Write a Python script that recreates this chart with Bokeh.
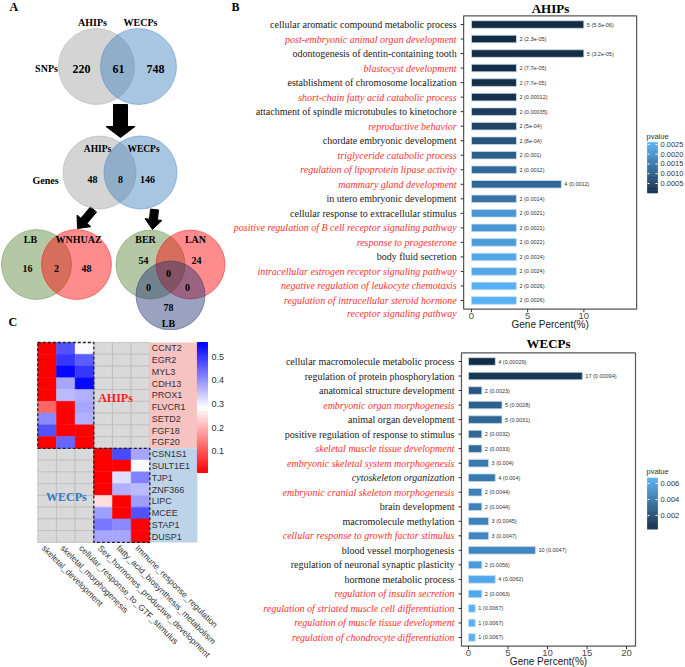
import math
from bokeh.plotting import figure
from bokeh.layouts import row, column
from bokeh.models import ColumnDataSource, LinearColorMapper, Range1d
from bokeh.transform import transform
from bokeh.core.properties import value
from bokeh.embed import file_html
from bokeh.resources import INLINE

SERIF = "Liberation Serif"
SANS = "Liberation Sans"
RED_TXT = "#ff3030"

# ---------------- Panel A data (Venn counts) ----------------
snp_sets = ["AHIPs", "WECPs"]
snp_counts = [220, 61, 748]          # AHIPs only, shared, WECPs only
gene_sets = ["AHIPs", "WECPs"]
gene_counts = [48, 8, 146]
ahips_sets = ["LB", "WNHUAZ"]
ahips_counts = [16, 2, 48]
wecps_sets = ["BER", "LAN", "LB"]
wecps_counts = [54, 24, 0, 0, 0, 78]  # BER, LAN, centre, BER&LB, LAN&LB, LB

# ---------------- Panel B data (GO enrichment) ----------------
ahips_terms = [
    "cellular aromatic compound metabolic process",
    "post-embryonic animal organ development",
    "odontogenesis of dentin-containing tooth",
    "blastocyst development",
    "establishment of chromosome localization",
    "short-chain fatty acid catabolic process",
    "attachment of spindle microtubules to kinetochore",
    "reproductive behavior",
    "chordate embryonic development",
    "triglyceride catabolic process",
    "regulation of lipoprotein lipase activity",
    "mammary gland development",
    "in utero embryonic development",
    "cellular response to extracellular stimulus",
    "positive regulation of B cell receptor signaling pathway",
    "response to progesterone",
    "body fluid secretion",
    "intracellular estrogen receptor signaling pathway",
    "negative regulation of leukocyte chemotaxis",
    "regulation of intracellular steroid hormone\nreceptor signaling pathway",
]
ahips_counts_go = [5, 2, 5, 2, 2, 2, 2, 2, 2, 2, 2, 4, 2, 2, 2, 2, 2, 2, 2, 2]
ahips_percent = [10, 4, 10, 4, 4, 4, 4, 4, 4, 4, 4, 8, 4, 4, 4, 4, 4, 4, 4, 4]
ahips_pvalue = [5.3e-06, 2.3e-05, 3.2e-05, 7.7e-05, 7.7e-05, 0.00012, 0.00035, 5e-04,
                8e-04, 0.001, 0.0012, 0.0012, 0.0014, 0.0021, 0.0021, 0.0022, 0.0024,
                0.0024, 0.0026, 0.0026]
ahips_style = ["n", "r", "n", "r", "n", "r", "n", "r", "n", "r", "r", "r", "n", "n",
               "r", "r", "n", "r", "r", "r"]
ahips_xticks = [0, 5, 10]
ahips_cbticks = [0.0005, 0.0010, 0.0015, 0.0020, 0.0025]

wecps_terms = [
    "cellular macromolecule metabolic process",
    "regulation of protein phosphorylation",
    "anatomical structure development",
    "embryonic organ morphogenesis",
    "animal organ development",
    "positive regulation of response to stimulus",
    "skeletal muscle tissue development",
    "embryonic skeletal system morphogenesis",
    "cytoskeleton organization",
    "embryonic cranial skeleton morphogenesis",
    "brain development",
    "macromolecule methylation",
    "cellular response to growth factor stimulus",
    "blood vessel morphogenesis",
    "regulation of neuronal synaptic plasticity",
    "hormone metabolic process",
    "regulation of insulin secretion",
    "regulation of striated muscle cell differentiation",
    "regulation of muscle tissue development",
    "regulation of chondrocyte differentiation",
]
wecps_counts_go = [4, 17, 2, 5, 5, 2, 2, 3, 4, 2, 2, 3, 3, 10, 2, 4, 2, 1, 1, 1]
wecps_percent = [3.39, 14.41, 1.69, 4.24, 4.24, 1.69, 1.69, 2.54, 3.39, 1.69, 1.69, 2.54,
                 2.54, 8.47, 1.69, 3.39, 1.69, 0.85, 0.85, 0.85]
wecps_pvalue = [0.00029, 0.00094, 0.0023, 0.0028, 0.0031, 0.0032, 0.0033, 0.004, 0.004,
                0.0044, 0.0044, 0.0045, 0.0047, 0.0047, 0.0056, 0.0062, 0.0063, 0.0067,
                0.0067, 0.0067]
wecps_style = ["n", "n", "n", "r", "n", "n", "r", "r", "i", "r", "n", "n", "r", "n", "n",
               "n", "r", "r", "r", "r"]
wecps_xticks = [0, 5, 10, 15, 20]
wecps_cbticks = [0.002, 0.004, 0.006]

# ---------------- Panel C data (heatmap) ----------------
heat_columns = ["skeletal_development", "skeletal_morphogenesis",
                "cellular_response_to_GTF_stimulus", "Sex_hormones_productive_development",
                "fatty_acid_biosynthesis_metabolism", "Immune_response_regulation"]
ahips_genes = ["CCNT2", "EGR2", "MYL3", "CDH13", "PROX1", "FLVCR1", "SETD2", "FGF18", "FGF20"]
ahips_heat = [[0.01, 0.47, 0.29], [0.01, 0.50, 0.46], [0.01, 0.55, 0.50],
              [0.01, 0.38, 0.55], [0.01, 0.36, 0.37], [0.12, 0.01, 0.38],
              [0.41, 0.01, 0.37], [0.47, 0.01, 0.01], [0.01, 0.45, 0.01]]
wecps_genes = ["CSN1S1", "SULT1E1", "TJP1", "ZNF366", "LIPC", "MCEE", "STAP1", "DUSP1"]
wecps_heat = [[0.01, 0.48, 0.38], [0.01, 0.01, 0.29], [0.01, 0.32, 0.42],
              [0.01, 0.37, 0.36], [0.25, 0.01, 0.39], [0.39, 0.01, 0.47],
              [0.43, 0.41, 0.01], [0.38, 0.38, 0.01]]
heat_ticks = [0.1, 0.2, 0.3, 0.4, 0.5]


# ---------------- helpers ----------------
def hex_to_rgb(h):
    h = h.lstrip("#")
    return [int(h[i:i + 2], 16) for i in (0, 2, 4)]


def ramp(cols, n):
    rgb = [hex_to_rgb(c) for c in cols]
    out = []
    for k in range(n):
        t = k / (n - 1) * (len(rgb) - 1)
        i = min(int(t), len(rgb) - 2)
        f = t - i
        c = [round(rgb[i][j] + (rgb[i + 1][j] - rgb[i][j]) * f) for j in range(3)]
        out.append("#%02x%02x%02x" % tuple(c))
    return out


BLUES = ramp(["#132B43", "#56B1F7"], 256)
RWB = ramp(["#FF0000", "#FFFFFF", "#0000FF"], 256)


def r_fmt(p):
    fixed = ("%.10f" % p).rstrip("0")
    m, e = ("%.1e" % p).split("e")
    if m.endswith(".0"):
        m = m[:-2]
    sci = "%se%s%02d" % (m, "-" if int(e) < 0 else "+", abs(int(e)))
    return fixed if len(fixed) <= len(sci) else sci


def arrow(x0, y0, x1, y1, sw, hw, hl):
    L = math.hypot(x1 - x0, y1 - y0)
    dx, dy = (x1 - x0) / L, (y1 - y0) / L
    nx, ny = -dy, dx
    bx, by = x0 + dx * (L - hl), y0 + dy * (L - hl)
    xs = [x0 + nx * sw / 2, bx + nx * sw / 2, bx + nx * hw / 2, x1,
          bx - nx * hw / 2, bx - nx * sw / 2, x0 - nx * sw / 2]
    ys = [y0 + ny * sw / 2, by + ny * sw / 2, by + ny * hw / 2, y1,
          by - ny * hw / 2, by - ny * sw / 2, y0 - ny * sw / 2]
    return xs, ys


def txt(p, xs, ys, texts, size, color="black", style="bold", font=SERIF, align="center",
        baseline="middle", angle=0.0):
    p.text(x=xs, y=ys, text=texts, text_font=value(font), text_font_size=size,
           text_font_style=style, text_color=color, text_align=align,
           text_baseline=baseline, angle=angle)


# ================= Panel A =================
pA = figure(width=230, height=330, x_range=Range1d(0, 230), y_range=Range1d(330, 0),
            x_axis_location=None, y_axis_location=None, min_border=0,
            output_backend="svg", toolbar_location=None)
pA.grid.visible = False
pA.outline_line_color = None

arrs = [arrow(120, 104, 120, 137, 14, 29, 11),
        arrow(93, 209, 77, 228, 8, 18, 10),
        arrow(154, 209, 152, 229, 8, 17, 10)]
pA.patches(xs=[a[0] for a in arrs], ys=[a[1] for a in arrs], fill_color="black",
           line_color="black")


def venn(p, xs, ys, r, cols):
    for x, y, c in zip(xs, ys, cols):
        p.circle(x=[x], y=[y], radius=r, fill_color=c, fill_alpha=0.45,
                 line_color=c, line_alpha=0.55, line_width=0.8)


venn(pA, [96, 138], [66, 66], 38, ["#a0a0a0", "#3e81bf"])
txt(pA, [92, 140], [22, 22], snp_sets, "10px")
txt(pA, [46], [68], ["SNPs"], "10px")
txt(pA, [81, 118, 155], [68, 68, 68], [str(v) for v in snp_counts], "12px")

venn(pA, [99, 140], [172, 172], 36.5, ["#a0a0a0", "#3e81bf"])
txt(pA, [97, 143], [148, 148], gene_sets, "9.5px")
txt(pA, [45], [180], ["Genes"], "10px")
txt(pA, [92, 120, 147], [179, 179, 179], [str(v) for v in gene_counts], "10px")

venn(pA, [36, 76], [264, 264], 35, ["#58853a", "#ff0000"])
txt(pA, [30, 78], [239, 239], ahips_sets, "10px")
txt(pA, [27, 56, 86], [268, 268, 268], [str(v) for v in ahips_counts], "10px")

venn(pA, [150, 190, 170], [264, 264, 295], 34.5, ["#58853a", "#ff0000", "#1e3070"])
txt(pA, [145, 195], [239, 239], wecps_sets[:2], "10px")
txt(pA, [143, 196, 168, 148, 187, 168], [260, 260, 273, 287, 287, 307],
    [str(v) for v in wecps_counts], "10px")
txt(pA, [168], [323], [wecps_sets[2]], "10px")

txt(pA, [9], [6], ["A"], "12px", align="left")
txt(pA, [8], [321], ["C"], "12px", align="left")


# ================= Panel B =================
ROW_PX = 14.526


def bar_chart(title, terms, counts, pct, pvals, styles, xlim, xticks, cbticks, cbfmt,
              top, height, zero_px, xppu, row1_px, title_px, cb_px, letter=None):
    left, width = 230, 455
    n = len(terms)
    rows = list(range(1, n + 1))

    def X(px):
        return (px - zero_px) / xppu

    def Y(py):
        return 1 + (py - row1_px) / ROW_PX

    p = figure(width=width, height=height,
               x_range=Range1d(X(left), X(left + width)),
               y_range=Range1d(Y(top + height), Y(top)),
               x_axis_location=None, y_axis_location=None, min_border=0,
               output_backend="svg", toolbar_location=None)
    p.grid.visible = False
    p.outline_line_color = None

    ytop, ybot = 0.4, n + 0.6
    mapper = LinearColorMapper(palette=BLUES, low=min(pvals), high=max(pvals))

    src = ColumnDataSource(dict(row=rows, pct=pct, p=pvals,
                                lab=["%d (%s)" % (c, r_fmt(v)) for c, v in zip(counts, pvals)]))
    p.hbar(y="row", left=0, right="pct", height=0.52, source=src,
           fill_color=transform("p", mapper), line_color="#c6dbef", line_width=0.8)
    p.text(x="pct", y="row", text="lab", source=src, x_offset=3, text_baseline="middle",
           text_font=value(SANS), text_font_size="5.5px", text_color="#333333")

    # panel border and ticks
    p.quad(left=[xlim[0]], right=[xlim[1]], top=[ytop], bottom=[ybot], fill_color=None,
           line_color="#555555", line_width=1.2)
    tl_x = 3 / xppu
    tl_y = 3 / ROW_PX
    p.segment(x0=[xlim[0] - tl_x] * n, x1=[xlim[0]] * n, y0=rows, y1=rows,
              line_color="#333333", line_width=1)
    p.segment(x0=xticks, x1=xticks, y0=[ybot] * len(xticks), y1=[ybot + tl_y] * len(xticks),
              line_color="#333333", line_width=1)
    txt(p, xticks, [ybot + 6.5 / ROW_PX] * len(xticks), [str(t) for t in xticks], "9.5px",
        color="#4d4d4d", style="normal", font=SANS)
    mid = (xlim[0] + xlim[1]) / 2
    txt(p, [mid], [ybot + 15.5 / ROW_PX], ["Gene Percent(%)"], "10px", color="#1a1a1a",
        style="normal", font=SANS)
    txt(p, [X(title_px[0])], [Y(title_px[1])], [title], "13px")
    if letter:
        txt(p, [X(231)], [Y(6)], [letter], "12px", align="left")

    # term labels (y axis)
    ly, lt, lc, ls = [], [], [], []
    for i, (t, s) in enumerate(zip(terms, styles)):
        for k, line in enumerate(t.split("\n")):
            ly.append(rows[i] + 0.9 * k)
            lt.append(line)
            lc.append(RED_TXT if s == "r" else "#1a1a1a")
            ls.append("normal" if s == "n" else "italic")
    lsrc = ColumnDataSource(dict(x=[xlim[0]] * len(ly), y=ly, t=lt, c=lc, s=ls))
    p.text(x="x", y="y", text="t", source=lsrc, x_offset=-7, text_align="right",
           text_baseline="middle", text_font=value(SERIF), text_font_size="10px",
           text_color="c", text_font_style="s")

    # colour bar legend
    lo, hi = min(pvals), max(pvals)
    cbx0, cbx1 = X(cb_px[0]), X(cb_px[0] + 10)
    yb, yt = Y(cb_px[2]), Y(cb_px[1])

    def vy(v):
        return yb + (v - lo) / (hi - lo) * (yt - yb)

    nstep = 60
    vals = [lo + (hi - lo) * k / nstep for k in range(nstep + 1)]
    ksrc = ColumnDataSource(dict(
        l=[cbx0] * nstep, r=[cbx1] * nstep,
        b=[vy(vals[k]) for k in range(nstep)], t=[vy(vals[k + 1]) for k in range(nstep)],
        v=[(vals[k] + vals[k + 1]) / 2 for k in range(nstep)]))
    p.quad(left="l", right="r", top="t", bottom="b", source=ksrc,
           fill_color=transform("v", mapper), line_color=transform("v", mapper),
           line_width=0.5)
    ty = [vy(t) for t in cbticks]
    w2 = 2 / xppu
    p.segment(x0=[cbx0] * len(ty), x1=[cbx0 + w2] * len(ty), y0=ty, y1=ty,
              line_color="white", line_width=1)
    p.segment(x0=[cbx1 - w2] * len(ty), x1=[cbx1] * len(ty), y0=ty, y1=ty,
              line_color="white", line_width=1)
    txt(p, [X(cb_px[0] + 13)] * len(ty), ty, [cbfmt % t for t in cbticks], "7.5px",
        color="#333333", style="normal", font=SANS, align="left")
    txt(p, [X(cb_px[0] - 1)], [Y(cb_px[1] - 6)], ["pvalue"], "7.5px", color="#333333",
        style="normal", font=SANS, align="left")
    return p


pB1 = bar_chart("AHIPs", ahips_terms, ahips_counts_go, ahips_percent, ahips_pvalue,
                ahips_style, (-0.7, 14.7), ahips_xticks, ahips_cbticks, "%.4f",
                top=0, height=330, zero_px=471, xppu=11.234, row1_px=24,
                title_px=(550, 8), cb_px=(647, 142, 192.6), letter="B")
pB2 = bar_chart("WECPs", wecps_terms, wecps_counts_go, wecps_percent, wecps_pvalue,
                wecps_style, (-0.89, 21.14), wecps_xticks, wecps_cbticks, "%.3f",
                top=330, height=337, zero_px=468, xppu=7.9, row1_px=361,
                title_px=(548, 343), cb_px=(647, 477.4, 528.7))

# ================= Panel C =================
cw, ch = 18.67, 11.76
x0p, y0p = 37.3, 342.0
pC = figure(width=230, height=337,
            x_range=Range1d((0 - x0p) / cw, (230 - x0p) / cw),
            y_range=Range1d((667 - y0p) / ch, (330 - y0p) / ch),
            x_axis_location=None, y_axis_location=None, min_border=0,
            output_backend="svg", toolbar_location=None)
pC.grid.visible = False
pC.outline_line_color = None

genes = ahips_genes + wecps_genes
hx, hy, hv, nx_, ny_ = [], [], [], [], []
for i, g in enumerate(genes):
    blk = ahips_heat[i] if i < len(ahips_genes) else wecps_heat[i - len(ahips_genes)]
    off = 0 if i < len(ahips_genes) else 3
    for j in range(6):
        if off <= j < off + 3:
            hx.append(j + 0.5); hy.append(i + 0.5); hv.append(blk[j - off])
        else:
            nx_.append(j + 0.5); ny_.append(i + 0.5)

hmap = LinearColorMapper(palette=RWB, low=0.01, high=0.56)
pC.rect(x=nx_, y=ny_, width=1, height=1, fill_color="#d9d9d9", line_color="#bcbcbc",
        line_width=0.8)
hsrc = ColumnDataSource(dict(x=hx, y=hy, v=hv))
pC.rect(x="x", y="y", width=1, height=1, source=hsrc, fill_color=transform("v", hmap),
        line_color=transform("v", hmap), line_width=0.5)

na = len(ahips_genes)
nt = len(genes)
pC.quad(left=[6, 6], right=[8.55, 8.55], top=[0, na], bottom=[na, nt],
        fill_color=["#f7c2c2", "#bdd3ea"], line_color=None)
pC.quad(left=[0, 3], right=[3, 6], top=[0, na], bottom=[na, nt], fill_color=None,
        line_color="#222222", line_dash="3 2", line_width=1.3)
txt(pC, [6.1] * nt, [i + 0.5 for i in range(nt)], genes, "9px", color="#333333",
    style="normal", font=SANS, align="left")
txt(pC, [(j + 0.3) for j in range(6)], [nt + 0.35] * 6, heat_columns, "8.5px",
    color="#333333", style="normal", font=SANS, align="left", angle=-math.pi / 4)
txt(pC, [4.16], [4.7], ["AHIPs"], "12px", color="#ff1a1a")
txt(pC, [1.53], [13.1], ["WECPs"], "12px", color="#2e7bc4")

# colour key
cb_top, cb_bot = 0.0, 130 / ch
steps = [0.01 + 0.005 * k for k in range(111)]


def vyc(v):
    return cb_top + (0.56 - v) / 0.55 * (cb_bot - cb_top)


ksrcC = ColumnDataSource(dict(
    l=[8.55] * (len(steps) - 1), r=[9.09] * (len(steps) - 1),
    t=[vyc(steps[k + 1]) for k in range(len(steps) - 1)],
    b=[vyc(steps[k]) for k in range(len(steps) - 1)],
    v=[(steps[k] + steps[k + 1]) / 2 for k in range(len(steps) - 1)]))
pC.quad(left="l", right="r", top="t", bottom="b", source=ksrcC,
        fill_color=transform("v", hmap), line_color=transform("v", hmap))
txt(pC, [9.3] * len(heat_ticks), [vyc(t) for t in heat_ticks],
    ["%.1f" % t for t in heat_ticks], "9px", color="#333333", style="normal", font=SANS,
    align="left")

layout = row(column(pA, pC), column(pB1, pB2))
open("out.html", "w").write(file_html(layout, INLINE))
